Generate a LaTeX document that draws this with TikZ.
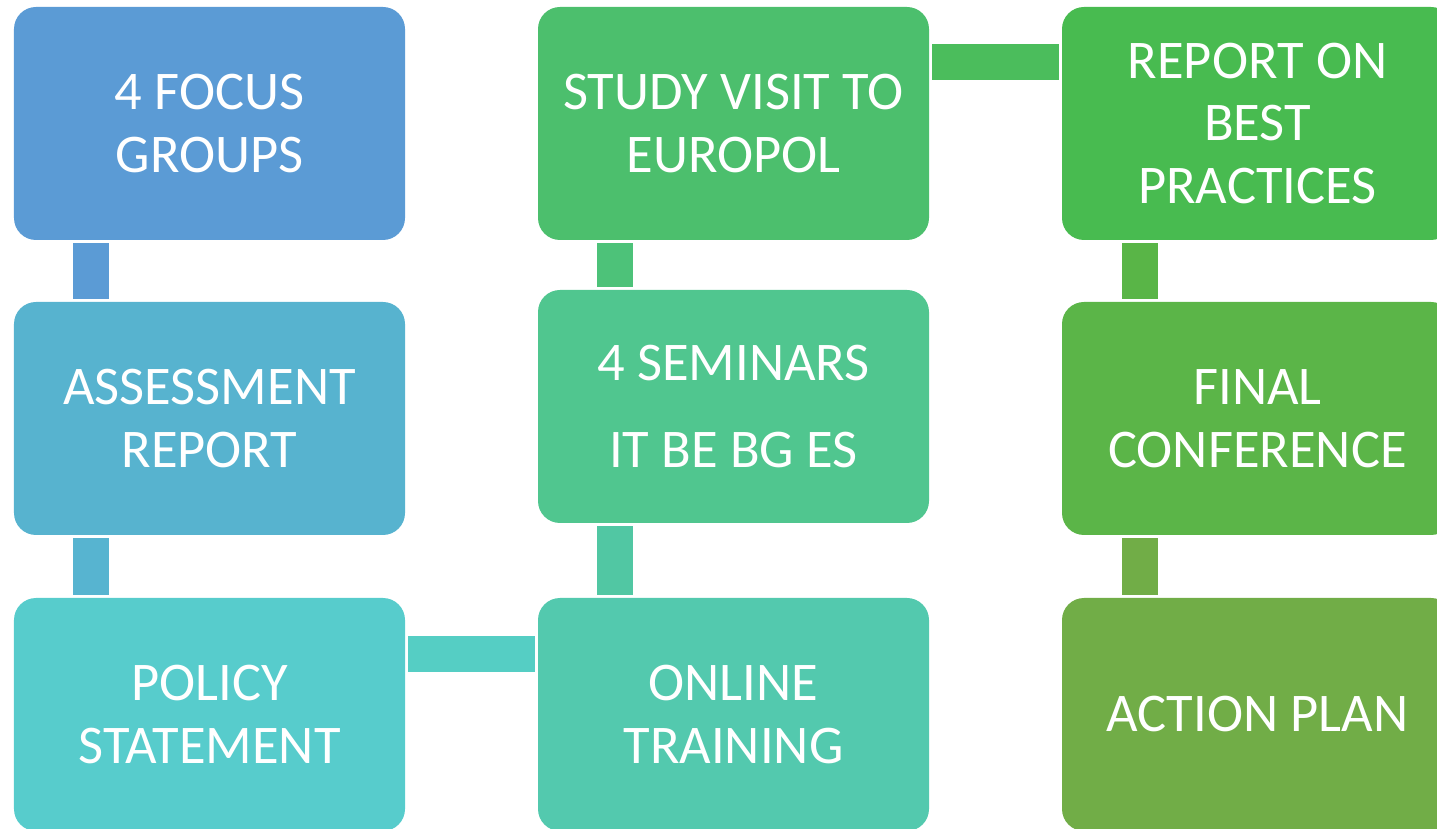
\documentclass[tikz,border=0pt]{standalone}
\usepackage{fontspec}
\setmainfont{Carlito}
\usepackage{tikz}

% farben der kaesten
\definecolor{blauA}{HTML}{5B9BD5}
\definecolor{blauB}{HTML}{57B3CF}
\definecolor{tuerkisA}{HTML}{57CCCC}
\definecolor{tuerkisB}{HTML}{53C9AE}
\definecolor{gruenA}{HTML}{50C68F}
\definecolor{gruenB}{HTML}{4CBF6D}
\definecolor{gruenC}{HTML}{48BB50}
\definecolor{gruenD}{HTML}{5BB548}
\definecolor{gruenE}{HTML}{71AD47}
% farben der balken
\definecolor{balkenA}{HTML}{5B9BD5}
\definecolor{balkenB}{HTML}{57B4D0}
\definecolor{balkenC}{HTML}{55CEC4}
\definecolor{balkenD}{HTML}{51C7A3}
\definecolor{balkenE}{HTML}{4DC279}
\definecolor{balkenF}{HTML}{4BBD5C}
\definecolor{balkenG}{HTML}{59B547}
\definecolor{balkenH}{HTML}{71AD47}

\begin{document}
\begin{tikzpicture}[
	kasten/.style={rounded corners=0.22cm, minimum width=3.91cm, minimum height=2.33cm,
		inner sep=0pt, text=white, align=center, font=\fontsize{15.5}{17.9}\selectfont},
	balken/.style={line width=0.36cm, shorten >=0.025cm, shorten <=0.025cm}
]
	% rahmen
	\useasboundingbox (0,0) rectangle (14.37,-8.29);
	\clip (0,0) rectangle (14.37,-8.29);
	% erste spalte
	\node[kasten, fill=blauA] (fokus) at (2.095,-1.235) {4 FOCUS\\GROUPS};
	\node[kasten, fill=blauB] (bewertung) at (2.095,-4.185) {ASSESSMENT\\REPORT};
	\node[kasten, fill=tuerkisA] (politik) at (2.095,-7.145) {POLICY\\STATEMENT};
	% zweite spalte
	\node[kasten, fill=tuerkisB] (online) at (7.335,-7.145) {ONLINE\\TRAINING};
	\node[kasten, fill=gruenA] (seminare) at (7.335,-4.065) {4 SEMINARS\\[6.8pt]IT BE BG ES};
	\node[kasten, fill=gruenB] (europol) at (7.335,-1.235) {STUDY VISIT TO\\EUROPOL};
	% dritte spalte
	\node[kasten, fill=gruenC] (praxis) at (12.575,-1.235) {REPORT ON\\BEST\\PRACTICES};
	\node[kasten, fill=gruenD] (konferenz) at (12.575,-4.185) {FINAL\\CONFERENCE};
	\node[kasten, fill=gruenE] (aktion) at (12.575,-7.145) {ACTION PLAN};
	% senkrechte balken
	\draw[balken, balkenA] ([xshift=0.78cm]fokus.south west) -- ([xshift=0.78cm]bewertung.north west);
	\draw[balken, balkenB] ([xshift=0.78cm]bewertung.south west) -- ([xshift=0.78cm]politik.north west);
	\draw[balken, balkenD] ([xshift=0.78cm]online.north west) -- ([xshift=0.78cm]seminare.south west);
	\draw[balken, balkenE] ([xshift=0.78cm]seminare.north west) -- ([xshift=0.78cm]europol.south west);
	\draw[balken, balkenG] ([xshift=0.79cm]praxis.south west) -- ([xshift=0.79cm]konferenz.north west);
	\draw[balken, balkenH] ([xshift=0.79cm]konferenz.south west) -- ([xshift=0.79cm]aktion.north west);
	% waagrechte balken
	\draw[balken, balkenC] ([yshift=-0.57cm]politik.north east) -- ([yshift=-0.57cm]online.north west);
	\draw[balken, balkenF] ([yshift=-0.56cm]europol.north east) -- ([yshift=-0.56cm]praxis.north west);
\end{tikzpicture}
\end{document}
